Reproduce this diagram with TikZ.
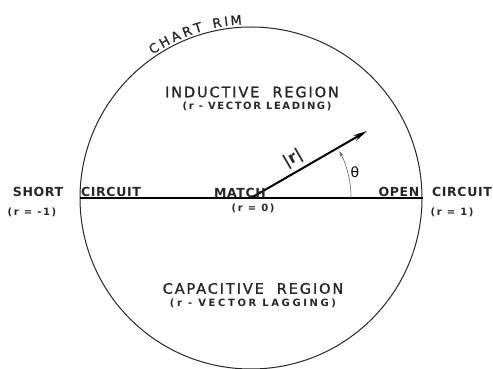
\documentclass[tikz,border=0pt]{standalone}
\usepackage{fontspec}
\setmainfont{DejaVu Sans}
\newfontfamily\bigfont[LetterSpace=13,FakeBold=1.2]{DejaVu Sans}
\newfontfamily\midfont[LetterSpace=5]{DejaVu Sans}
\newfontfamily\smfont[LetterSpace=16]{DejaVu Sans}
\newfontfamily\smwfont[LetterSpace=26]{DejaVu Sans}
\newfontfamily\rimfont[FakeBold=0.8]{DejaVu Sans}
\usetikzlibrary{arrows.meta,calc}
\begin{document}
\begin{tikzpicture}[x=1pt,y=1pt,
  big/.style={font=\bigfont\fontsize{14.5}{14.5}\selectfont, text=black!85, inner sep=0pt},
  mid/.style={font=\midfont\bfseries\fontsize{12.5}{12.5}\selectfont, text=black!85, inner sep=0pt},
  small/.style={font=\smfont\bfseries\fontsize{10}{10}\selectfont, text=black!85, inner sep=0pt},
  smallw/.style={font=\smwfont\bfseries\fontsize{10}{10}\selectfont, text=black!85, inner sep=0pt},
  rimletter/.style={font=\rimfont\fontsize{13}{13}\selectfont, text=black!85, inner sep=0pt},
  rimline/.style={line width=1pt, draw=black!85},
  vec/.style={line width=2pt, -{Stealth[length=14pt,width=6pt]}},
  anglearc/.style={line width=0.6pt, draw=black!60, -{Stealth[length=6pt,width=3.5pt]}}]
\useasboundingbox (0,0) rectangle (493,369);
\coordinate (O) at (251,171);
\node[circle, rimline, minimum size=342pt, inner sep=0pt] (rim) at (O) {};
\draw[line width=1.3pt] (rim.west) -- (rim.east);
\coordinate (tip) at (367,238);
\draw[vec] (O) -- (tip);
\node[font=\bfseries\fontsize{16}{16}\selectfont, text=black!85, rotate=30, inner sep=0pt] (absr) at (293,210) {|r|};
\coordinate (arcstart) at (351,171);
\draw[anglearc] (arcstart) arc (0:28:100);
\node[font=\fontsize{14}{14}\selectfont, inner sep=0pt] (theta) at (355,197) {θ};
\foreach \l/\a [count=\i] in {C/123,H/119,A/115,R/111,T/107.3,R/101,I/98,M/94.8}
  \node[rimletter, rotate=\a-90] (rimtext\i) at ($(O)+(\a:178.5)$) {\l};
\node[big] (ind) at (252,277) {INDUCTIVE\ \ REGION};
\node[small] (ind2) at (257,263) {(r - VECTOR LEADING)};
\node[big] (cap) at (253,80.5) {CAPACITIVE\ \ REGION};
\node[smallw] (cap2) at (253,66) {(r - VECTOR LAGGING)};
\node[mid] (short) at (38,177) {SHORT};
\node[small] (short2) at (32,157) {(r = -1)};
\node[mid] (cl) at (111,177) {CIRCUIT};
\node[mid] (match) at (240,176) {MATCH};
\node[small] (match2) at (253,161) {(r = 0)};
\node[mid] (open) at (399,177) {OPEN};
\node[mid] (cr) at (462,177) {CIRCUIT};
\node[small] (cr2) at (452,157) {(r = 1)};
\end{tikzpicture}
\end{document}
